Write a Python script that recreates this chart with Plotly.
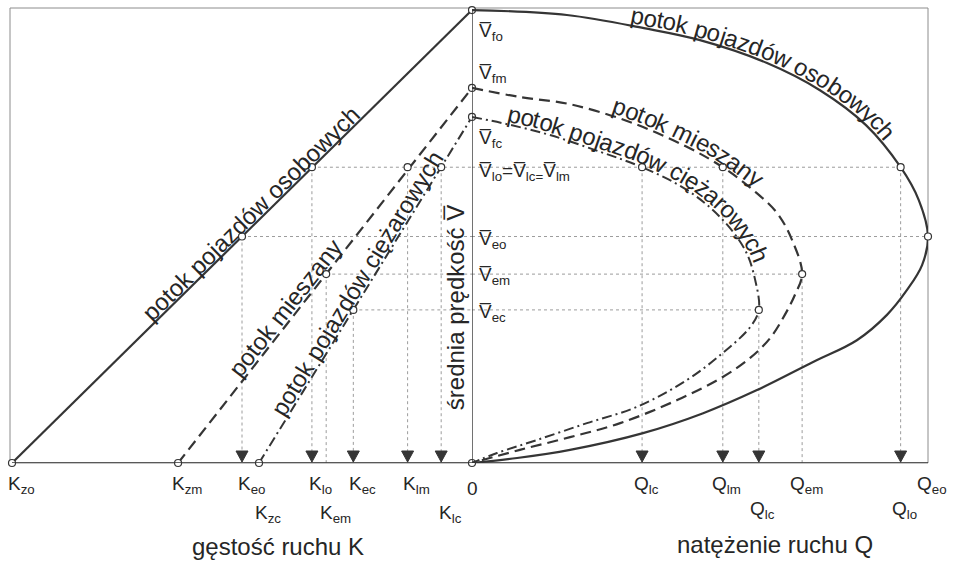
import numpy as np
import plotly.graph_objects as go

# ---------------------------------------------------------------
# Values in normalised units: K_zo = 100, V_fo = 100, Q_eo = 100
# ---------------------------------------------------------------
# jam densities (V = 0) for cars (o), mixed (m), trucks (c)
K_zo, K_zm, K_zc = 100.0, 63.9, 46.3
# free-flow speeds (K = 0)
V_fo, V_fm, V_fc = 100.0, 82.8, 76.4
# characteristic speeds
V_l = 65.3                       # V_lo = V_lc = V_lm
V_eo, V_em, V_ec = 50.0, 41.7, 33.8
# characteristic densities
K_eo, K_em, K_ec = 50.0, 31.7, 25.8
K_lo, K_lm, K_lc = 34.8, 14.0, 6.7
# characteristic flows
Q_lo, Q_lm, Q_lc = 94.0, 55.0, 37.3
Q_eo, Q_em, Q_ec = 100.0, 72.4, 62.9

# speed-flow curves, (Q, V) pairs from free flow to jam
Q_car = [0, 20.8, 37.7, 49.8, 64.7, 76.3, 86.4, 94.0, 98.0, 100.0,
         98.7, 95.4, 91.0, 84.4, 74.8, 62.5, 50.7, 37.5, 21.5, 9.9, 0]
V_car = [100, 98.9, 96.0, 93.4, 88.3, 82.3, 74.6, 65.3, 58.0, 50.0,
         43.7, 38.2, 32.7, 27.1, 22.3, 16.1, 11.0, 6.6, 2.9, 1.1, 0]
Q_mix = [0, 10.5, 21.5, 34.6, 47.1, 55.0, 61.6, 66.9, 70.2, 72.4,
         70.8, 68.6, 65.4, 61.0, 55.0, 45.0, 32.5, 21.5, 10.5, 0]
V_mix = [82.8, 80.8, 79.2, 75.3, 69.8, 65.3, 60.3, 55.2, 49.2, 41.7,
         37.1, 32.7, 27.6, 23.2, 19.0, 13.9, 8.8, 5.7, 2.9, 0]
Q_trk = [0, 7.7, 17.1, 28.1, 37.3, 47.1, 54.4, 59.9, 62.1, 62.9,
         61.0, 55.0, 47.1, 36.2, 25.2, 14.3, 5.5, 0]
V_trk = [76.4, 74.8, 72.4, 68.7, 65.3, 60.3, 54.3, 47.0, 40.4, 33.8,
         30.0, 24.3, 18.3, 12.4, 8.8, 5.1, 2.2, 0]

# axis labels
K_ticks = [(K_zo, "K<sub>zo</sub>", 1), (K_zm, "K<sub>zm</sub>", 1),
           (K_eo, "K<sub>eo</sub>", 1), (K_zc, "K<sub>zc</sub>", 2),
           (K_lo, "K<sub>lo</sub>", 1), (K_em, "K<sub>em</sub>", 2),
           (K_ec, "K<sub>ec</sub>", 1), (K_lm, "K<sub>lm</sub>", 1),
           (K_lc, "K<sub>lc</sub>", 2)]
Q_ticks = [(Q_lc, "Q<sub>lc</sub>", 1), (Q_lm, "Q<sub>lm</sub>", 1),
           (Q_ec, "Q<sub>lc</sub>", 2), (Q_em, "Q<sub>em</sub>", 1),
           (Q_eo, "Q<sub>eo</sub>", 1), (Q_lo, "Q<sub>lo</sub>", 2)]
K_arrows = [K_eo, K_lo, K_ec, K_lm, K_lc]
Q_arrows = [Q_lc, Q_lm, Q_ec, Q_lo]

# ---------------------------------------------------------------
W, H = 953, 564
ML, MR, MT, MB = 12, 25, 8, 101
PW, PH = W - ML - MR, H - MT - MB
V_TOP = 100.45
SPLIT = 460 / PW                 # fraction of plot width used by the K panel
X0 = ML + SPLIT * PW             # pixel x of the V axis
QPX = (W - MR - X0) / 100.0      # pixels per unit of Q

INK = "#353535"
GUIDE = "#9c9c9c"
FONT = "Arial, 'Liberation Sans', sans-serif"
VB = "V\u0305"


def qx(q):
    return X0 + np.asarray(q, float) * QPX


def vy(v):
    return MT + (V_TOP - np.asarray(v, float)) / V_TOP * PH


def px2q(x):
    return (x - X0) / QPX


def py2v(y):
    return V_TOP - (y - MT) / PH * V_TOP


fig = go.Figure()

# guide lines (dotted) --------------------------------------------------
def seg_trace(xs, ys, axis):
    fig.add_trace(go.Scatter(x=xs, y=ys, mode="lines", xaxis=axis, yaxis="y",
                             line=dict(color=GUIDE, width=1, dash="dot"),
                             hoverinfo="skip", showlegend=False))

lx, ly, rx, ry = [], [], [], []
for k, q, v in [(K_lo, Q_lo, V_l), (K_eo, Q_eo, V_eo),
                (K_em, Q_em, V_em), (K_ec, Q_ec, V_ec)]:
    lx += [k, 0, None]; ly += [v, v, None]
    rx += [0, q, None]; ry += [v, v, None]
for k, v in [(K_eo, V_eo), (K_lo, V_l), (K_em, V_em), (K_ec, V_ec),
             (K_lm, V_l), (K_lc, V_l)]:
    lx += [k, k, None]; ly += [v, 0, None]
for q, v in [(Q_lc, V_l), (Q_lm, V_l), (Q_ec, V_ec), (Q_em, V_em), (Q_lo, V_l)]:
    rx += [q, q, None]; ry += [v, 0, None]
seg_trace(lx, ly, "x")
seg_trace(rx, ry, "x2")

# speed-density lines ---------------------------------------------------
styles = [dict(color=INK, width=2.2),
          dict(color=INK, width=2.2, dash="11px,6px"),
          dict(color=INK, width=2.0, dash="10px,4px,2px,4px")]
for (kj, vf), st in zip([(K_zo, V_fo), (K_zm, V_fm), (K_zc, V_fc)], styles):
    fig.add_trace(go.Scatter(x=[kj, 0], y=[0, vf], mode="lines", xaxis="x",
                             yaxis="y", line=st, hoverinfo="skip",
                             showlegend=False))

# speed-flow curves ------------------------------------------------------
for (q, v), st in zip([(Q_car, V_car), (Q_mix, V_mix), (Q_trk, V_trk)], styles):
    fig.add_trace(go.Scatter(x=q, y=v, mode="lines", xaxis="x2", yaxis="y",
                             line=dict(shape="spline", smoothing=1.0, **st),
                             hoverinfo="skip", showlegend=False))

# characteristic points ---------------------------------------------------
mk = dict(symbol="circle", size=7, color="white", line=dict(color=INK, width=1.2))
fig.add_trace(go.Scatter(
    x=[K_zo, K_zm, K_zc, K_lo, K_lm, K_lc, K_eo, K_em, K_ec, 0, 0, 0, 0],
    y=[0, 0, 0, V_l, V_l, V_l, V_eo, V_em, V_ec, 0, V_fo, V_fm, V_fc],
    mode="markers", xaxis="x", yaxis="y", marker=mk, cliponaxis=False,
    hoverinfo="skip", showlegend=False))
fig.add_trace(go.Scatter(
    x=[Q_lo, Q_lm, Q_lc, Q_eo, Q_em, Q_ec],
    y=[V_l, V_l, V_l, V_eo, V_em, V_ec],
    mode="markers", xaxis="x2", yaxis="y", marker=mk, cliponaxis=False,
    hoverinfo="skip", showlegend=False))

# frame, axes and arrow heads ----------------------------------------------
shapes = [
    dict(type="rect", xref="paper", yref="paper", x0=-2 / PW, x1=1, y0=0, y1=1,
         line=dict(color="#8c8c8c", width=1), layer="below"),
    dict(type="line", xref="paper", yref="y", x0=0, x1=1, y0=0, y1=0,
         line=dict(color=INK, width=1.6)),
    dict(type="line", xref="x2", yref="y", x0=0, x1=0, y0=0, y1=V_fo,
         line=dict(color=INK, width=1.4)),
]
for xs, ref in [(K_arrows, "x"), (Q_arrows, "x2")]:
    for xv in xs:
        shapes.append(dict(type="path", xref=ref, yref="y", xsizemode="pixel",
                           ysizemode="pixel", xanchor=xv, yanchor=0,
                           path="M -6,12 L 6,12 L 0,1 Z",
                           fillcolor=INK, line=dict(color=INK, width=1)))

ann = []
lab = dict(family=FONT, size=19, color="#262626")
for xv, txt, row in K_ticks:
    ann.append(dict(x=xv, y=0, xref="x", yref="y", text=txt, showarrow=False,
                    xanchor="center", yanchor="top", xshift=9,
                    yshift=-8 if row == 1 else -37, font=lab))
for xv, txt, row in Q_ticks:
    ann.append(dict(x=xv, y=0, xref="x2", yref="y", text=txt, showarrow=False,
                    xanchor="center", yanchor="top", xshift=4,
                    yshift=-8 if row == 1 else -33, font=lab))
ann.append(dict(x=0, y=0, xref="x2", yref="y", text="0", showarrow=False,
                xanchor="center", yanchor="top", xshift=1, yshift=-13, font=lab))

title_font = dict(family=FONT, size=24, color="#262626")
ann.append(dict(x=(278 - ML) / PW, y=0, xref="paper", yref="y",
                text="gęstość ruchu K", showarrow=False, xanchor="center",
                yanchor="top", yshift=-68, font=title_font))
ann.append(dict(x=(775 - ML) / PW, y=0, xref="paper", yref="y",
                text="natężenie ruchu Q", showarrow=False, xanchor="center",
                yanchor="top", yshift=-66, font=title_font))
ann.append(dict(x=0, y=34.4, xref="x2", yref="y",
                text="średnia prędkość " + VB, showarrow=False, textangle=-90,
                xanchor="center", yanchor="middle", xshift=-17, font=title_font))

# speed labels beside the V axis
for v, txt, dy in [(V_fo, VB + "<sub>fo</sub>", -22), (V_fm, VB + "<sub>fm</sub>", 14),
                   (V_fc, VB + "<sub>fc</sub>", -22),
                   (V_l, VB + "<sub>lo</sub>=" + VB + "<sub>lc=</sub>" + VB + "<sub>lm</sub>", -5),
                   (V_eo, VB + "<sub>eo</sub>", -3), (V_em, VB + "<sub>em</sub>", -2),
                   (V_ec, VB + "<sub>ec</sub>", -3)]:
    ann.append(dict(x=0, y=v, xref="x2", yref="y", text=txt, showarrow=False,
                    xanchor="left", yanchor="middle", xshift=5, yshift=dy,
                    font=lab))

# labels along the straight lines of the K panel
line_font = dict(family=FONT, size=24, color="#262626")
KPX = SPLIT * PW / 100.0
for kj, vf, kc, txt, off in [(K_zo, V_fo, 46.5, "potok pojazdów osobowych", 10.5),
                             (K_zm, V_fm, 38.6, "potok mieszany", 11),
                             (K_zc, V_fc, 23.0, "potok pojazdów ciężarowych", 11)]:
    dx, dy = kj * KPX, -vf / V_TOP * PH
    n = np.hypot(dx, dy)
    tx, ty = dx / n, dy / n
    ang = np.degrees(np.arctan2(ty, tx))
    vc = vf * (1 - kc / kj)
    ann.append(dict(x=kc, y=vc, xref="x", yref="y", text=txt, showarrow=False,
                    textangle=ang, xanchor="center", yanchor="middle",
                    xshift=ty * off, yshift=tx * off, font=line_font))

# labels following the curved speed-flow lines
ADV = {"p": .556, "o": .556, "t": .278, "k": .5, " ": .278, "j": .222,
       "a": .556, "z": .5, "d": .556, "ó": .556, "w": .722, "s": .5,
       "b": .556, "y": .5, "c": .5, "h": .556, "m": .833, "i": .222,
       "e": .556, "n": .556, "ę": .556, "ż": .5, "r": .333}


def catmull(pts, n=40):
    P = np.vstack([pts[0], pts, pts[-1]])
    out = []
    for i in range(1, len(P) - 2):
        p0, p1, p2, p3 = P[i - 1], P[i], P[i + 1], P[i + 2]
        for t in np.linspace(0, 1, n, endpoint=False):
            out.append(0.5 * (2 * p1 + (-p0 + p2) * t
                              + (2 * p0 - 5 * p1 + 4 * p2 - p3) * t * t
                              + (-p0 + 3 * p1 - 3 * p2 + p3) * t ** 3))
    out.append(P[-2])
    return np.array(out)


def curved_text(q, v, text, start_x, size, gap):
    pts = np.column_stack([qx(q), vy(v)])
    d = catmull(pts)
    g = np.gradient(d, axis=0)
    g /= np.linalg.norm(g, axis=1)[:, None]
    off = d + np.column_stack([g[:, 1], -g[:, 0]]) * gap
    s = np.concatenate([[0], np.cumsum(np.linalg.norm(np.diff(off, axis=0), axis=1))])
    pos = s[np.argmax(off[:, 0] >= start_x)]
    res = []
    for ch in text:
        w = ADV.get(ch, .55) * size
        c = pos + w / 2
        x, y = np.interp(c, s, off[:, 0]), np.interp(c, s, off[:, 1])
        a = np.degrees(np.arctan2(np.interp(c, s, g[:, 1]), np.interp(c, s, g[:, 0])))
        if ch != " ":
            res.append(dict(x=px2q(x), y=py2v(y), xref="x2", yref="y", text=ch,
                            showarrow=False, textangle=a, xanchor="center",
                            yanchor="middle", font=dict(family=FONT, size=size,
                                                        color="#262626")))
        pos += w
    return res


ann += curved_text(Q_car, V_car, "potok pojazdów osobowych", 630, 24, 11)
ann += curved_text(Q_mix, V_mix, "potok mieszany", 613, 24, 11)
ann += curved_text(Q_trk, V_trk, "potok pojazdów ciężarowych", 507, 24, 11)

fig.update_layout(
    width=W, height=H, margin=dict(l=ML, r=MR, t=MT, b=MB),
    paper_bgcolor="white", plot_bgcolor="white",
    xaxis=dict(domain=[0, SPLIT], range=[100, 0], visible=False, fixedrange=True),
    xaxis2=dict(domain=[SPLIT, 1], range=[0, 100], anchor="y", visible=False,
                fixedrange=True),
    yaxis=dict(range=[0, V_TOP], visible=False, fixedrange=True),
    shapes=shapes, annotations=ann, showlegend=False,
)

fig.write_html("out.html")
